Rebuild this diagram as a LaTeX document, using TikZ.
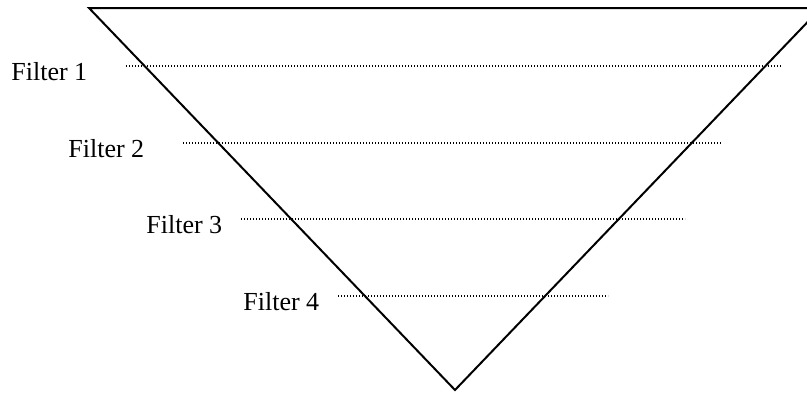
\documentclass[tikz,border=0pt]{standalone}
\usepackage{fontspec}
\setmainfont{Liberation Serif}
\begin{document}
\begin{tikzpicture}[x=0.5pt,y=-0.5pt,
  filterline/.style={line width=0.6pt,dash pattern=on 0.6pt off 0.9pt},
  filterlabel/.style={anchor=base west,inner sep=0pt,font=\fontsize{13pt}{15pt}\selectfont}]
  \useasboundingbox (0,0) rectangle (807,392);
  \clip (0,0) rectangle (807,392);
  \coordinate (tl) at (89,8);
  \coordinate (tr) at (821,8);
  \coordinate (apex) at (455,390);
  \draw[line width=1pt,line join=miter] (tl) -- (tr) -- (apex) -- cycle;

  \foreach \i/\tx/\ty/\ya/\xa/\xb in {1/11/80/66/126/782,2/68/157/143/183/722,3/146/233/219/241/685,4/243/310/296/338/608} {
    \node[filterlabel] (filter\i) at (\tx,\ty) {Filter \i};
    \coordinate (s\i) at (\xa,\ya);
    \coordinate (e\i) at (\xb,\ya);
    \draw[filterline] (s\i) -- (e\i);
  }
\end{tikzpicture}
\end{document}
